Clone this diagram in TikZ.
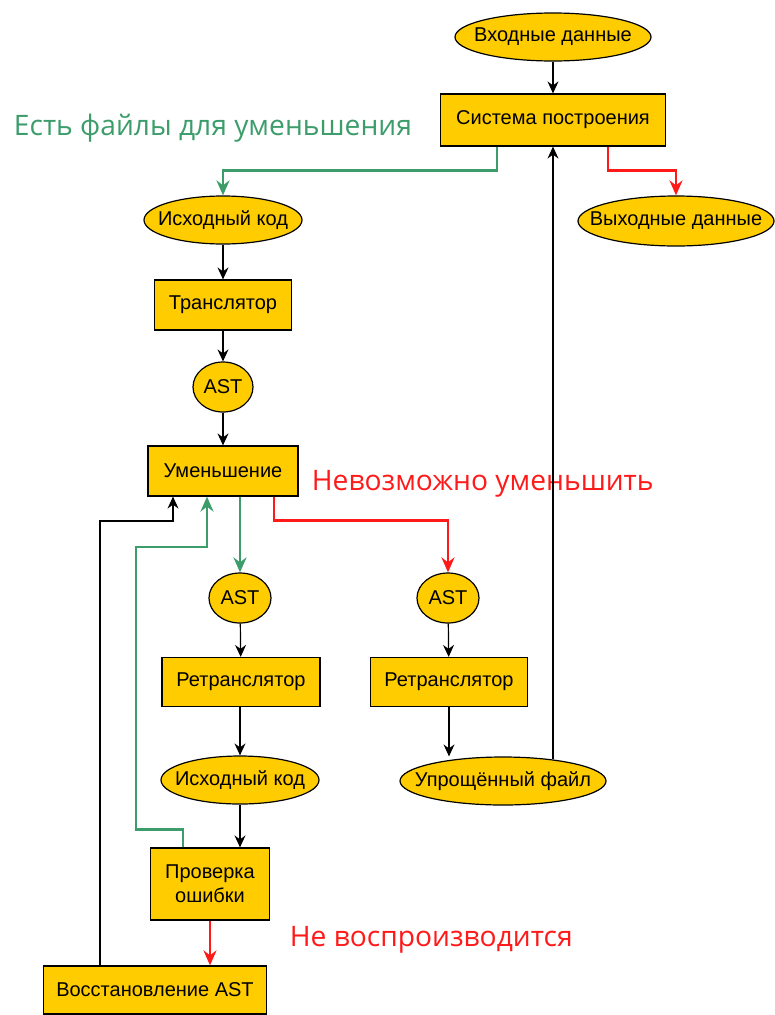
\documentclass[tikz,border=0pt]{standalone}
\usepackage{fontspec}
\setmainfont{Liberation Sans}
\newfontfamily\boxfont{Liberation Sans}
\newfontfamily\notefont{Open Sans}
\usetikzlibrary{shapes.geometric,arrows.meta}
\definecolor{boxfill}{RGB}{255,204,0}
\definecolor{okgreen}{RGB}{60,157,107}
\definecolor{failred}{RGB}{255,25,25}

\begin{document}
\begin{tikzpicture}[x=1pt,y=-1pt,every path/.append style={line width=1.2pt},
  blk/.style={draw,fill=boxfill,font=\boxfont\fontsize{20}{24}\selectfont,align=center,inner sep=0pt},
  data/.style={blk,ellipse,inner xsep=-18pt},
  tip/.style={-{Stealth[length=12pt,width=11pt,inset=4pt]}},
  ok/.style={-{Stealth[length=15pt,width=13pt,inset=5pt]},okgreen,line width=2.6pt},
  fail/.style={-{Stealth[length=15pt,width=13pt,inset=5pt]},failred,line width=2.6pt},
  note/.style={anchor=west,font=\notefont\fontsize{28.2}{32}\selectfont}]
  \useasboundingbox (0,0) rectangle (774,1015);
  % top: build system
  \node (in)  at (553,37)  [data,minimum width=196,minimum height=48] {Входные данные};
  \node (sys) at (553,120) [blk,minimum width=225,minimum height=52] {Система построения};
  \node (out) at (676,221) [data,minimum width=196,minimum height=50] {Выходные данные};
  \node (src) at (223,220) [data,minimum width=158,minimum height=48] {Исходный код};
  \node (trans) at (223,305) [blk,minimum width=137,minimum height=50] {Транслятор};
  \node (ast) at (223,387) [data,minimum width=60,minimum height=50] {AST};
  \node (red) at (223,471) [blk,minimum width=150,minimum height=50] {Уменьшение};
  % left branch
  \node (astl) at (240,598) [data,minimum width=62,minimum height=50] {AST};
  \node (retrl) at (241,682) [blk,minimum width=158,minimum height=49] {Ретранслятор};
  \node (srcl) at (240,780) [data,minimum width=158,minimum height=48] {Исходный код};
  \node (check) at (210,884) [blk,minimum width=119,minimum height=72] {Проверка\\ошибки};
  \node (rest) at (155,990) [blk,minimum width=223,minimum height=48] {Восстановление AST};
  % right branch
  \node (astr) at (448,598) [data,minimum width=62,minimum height=50] {AST};
  \node (retrr) at (449,682) [blk,minimum width=157,minimum height=49] {Ретранслятор};
  \node (simp) at (503,781) [data,minimum width=206,minimum height=48] {Упрощённый файл};
  % labels
  \node (lok)   at (10,128)  [note,text=okgreen] {Есть файлы для уменьшения};
  \node (lfail) at (308,484) [note,text=failred] {Невозможно уменьшить};
  \node (lnot)  at (286,940) [note,text=failred] {Не воспроизводится};
  \coordinate (gl) at (136,547);
  \coordinate (bl) at (100,521);
  % connectors
  \draw [tip] (in) -- (sys);
  \draw [ok] ([xshift=-56]sys.south) -- ++(0,24) -| (src.north);
  \draw [fail] ([xshift=55]sys.south) -- ++(0,24) -| (out.north);
  \draw [tip] (src) -- (trans);
  \draw [tip] (trans) -- (ast);
  \draw [tip] (ast) -- (red);
  \draw [ok] (red.south -| astl.north) -- (astl.north);
  \draw [fail] ([xshift=51]red.south) -- ++(0,24) -| (astr.north);
  \draw [tip] (astl) -- (retrl);
  \draw [tip] (retrl.south -| srcl.north) -- (srcl.north);
  \draw [tip] (srcl.south) -- (srcl.south |- check.north);
  \draw [tip] (astr) -- (retrr);
  \draw [tip] (retrr.south) -- (retrr.south |- simp.north);
  \draw [tip] (simp.24 -| sys.south) -- (sys.south);
  \draw [ok] ([xshift=-27]check.north) -- ++(0,-18) -| (gl) -| ([xshift=-16]red.south);
  \draw [fail] (check.south) -- (check.south |- rest.north);
  \draw [tip] ([xshift=-55]rest.north) -- (bl) -| ([xshift=-50]red.south);
\end{tikzpicture}
\end{document}
